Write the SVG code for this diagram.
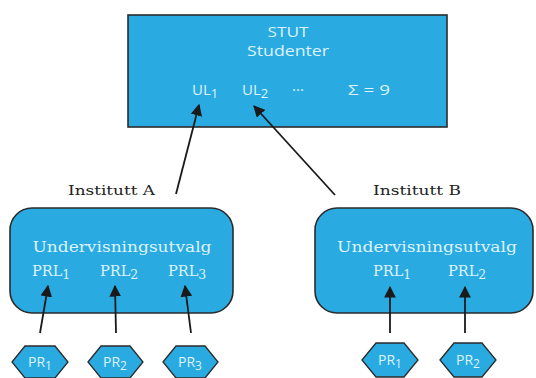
<svg xmlns="http://www.w3.org/2000/svg" width="536" height="378" viewBox="0 0 536 378">
<defs>
<style>
.box{fill:#29abe2;stroke:#2b2b2b;stroke-width:1.6}
.hex{fill:#29abe2;stroke:#2b2b2b;stroke-width:1.3}
.sans{font-family:"Open Sans","Liberation Sans",sans-serif;fill:#dff2fb}
.serif{font-family:"DejaVu Serif","Liberation Serif",serif;fill:#dff2fb}
.lbl{font-family:"DejaVu Serif","Liberation Serif",serif;fill:#222;font-size:13.5px}
.edge{stroke:#1a1a1a;stroke-width:1.8;fill:none;marker-end:url(#ah)}
</style>
<marker id="ah" viewBox="0 0 10 10" refX="9" refY="5" markerWidth="6.5" markerHeight="6.5" orient="auto" markerUnits="strokeWidth">
<path d="M0,0 L10,5 L0,10 z" fill="#1a1a1a"/>
</marker>
</defs>
<rect width="536" height="378" fill="#ffffff"/>

<g id="stut">
<rect class="box" x="128" y="15" width="319" height="112"/>
<text class="sans" x="288" y="37" font-size="14" text-anchor="middle" textLength="41" lengthAdjust="spacingAndGlyphs">STUT</text>
<text class="sans" x="288" y="56" font-size="14.5" text-anchor="middle" textLength="82" lengthAdjust="spacingAndGlyphs">Studenter</text>
<text class="sans" x="192" y="95" font-size="15">UL<tspan font-size="13" dy="3">1</tspan></text>
<text class="sans" x="242" y="95" font-size="15">UL<tspan font-size="13" dy="3">2</tspan></text>
<text class="sans" x="292" y="95" font-size="15">···</text>
<text class="sans" x="348" y="95" font-size="15" textLength="42" lengthAdjust="spacingAndGlyphs">Σ = 9</text>
</g>

<g id="instA">
<text class="lbl" x="68" y="195" textLength="87" lengthAdjust="spacingAndGlyphs">Institutt A</text>
<rect class="box" x="10" y="208" width="223" height="105" rx="22" ry="22"/>
<text class="serif" x="122" y="252" font-size="14.5" text-anchor="middle" textLength="179" lengthAdjust="spacingAndGlyphs">Undervisningsutvalg</text>
<text class="serif" x="32" y="276" font-size="14.5">PRL<tspan font-size="12.5" dy="3">1</tspan></text>
<text class="serif" x="100" y="276" font-size="14.5">PRL<tspan font-size="12.5" dy="3">2</tspan></text>
<text class="serif" x="168" y="276" font-size="14.5">PRL<tspan font-size="12.5" dy="3">3</tspan></text>
</g>

<g id="instB">
<text class="lbl" x="373" y="195" textLength="88" lengthAdjust="spacingAndGlyphs">Institutt B</text>
<rect class="box" x="315" y="208" width="218" height="105" rx="22" ry="22"/>
<text class="serif" x="427" y="252" font-size="14.5" text-anchor="middle" textLength="180" lengthAdjust="spacingAndGlyphs">Undervisningsutvalg</text>
<text class="serif" x="373" y="276" font-size="14.5">PRL<tspan font-size="12.5" dy="3">1</tspan></text>
<text class="serif" x="448" y="276" font-size="14.5">PRL<tspan font-size="12.5" dy="3">2</tspan></text>
</g>

<g id="prA1">
<polygon class="hex" points="12,362 25,346 55,346 68,362 55,378 25,378"/>
<text class="sans" x="40" y="367" font-size="14" text-anchor="middle">PR<tspan font-size="12" dy="3">1</tspan></text>
</g>
<g id="prA2">
<polygon class="hex" points="88,362 101,346 130,346 143,362 130,378 101,378"/>
<text class="sans" x="115" y="367" font-size="14" text-anchor="middle">PR<tspan font-size="12" dy="3">2</tspan></text>
</g>
<g id="prA3">
<polygon class="hex" points="163,362 176,346 205,346 218,362 205,378 176,378"/>
<text class="sans" x="190" y="367" font-size="14" text-anchor="middle">PR<tspan font-size="12" dy="3">3</tspan></text>
</g>
<g id="prB1">
<polygon class="hex" points="362,360 376,343 404,343 418,360 404,377 376,377"/>
<text class="sans" x="390" y="365" font-size="14" text-anchor="middle">PR<tspan font-size="12" dy="3">1</tspan></text>
</g>
<g id="prB2">
<polygon class="hex" points="440,360 454,343 482,343 496,360 482,377 454,377"/>
<text class="sans" x="468" y="365" font-size="14" text-anchor="middle">PR<tspan font-size="12" dy="3">2</tspan></text>
</g>

<g id="connectors">
<line class="edge" x1="176" y1="194" x2="199" y2="105"/>
<line class="edge" x1="335" y1="195" x2="254" y2="106"/>
<line class="edge" x1="40" y1="333" x2="48" y2="286"/>
<line class="edge" x1="116" y1="333" x2="115" y2="286"/>
<line class="edge" x1="191" y1="333" x2="185" y2="286"/>
<line class="edge" x1="390" y1="333" x2="390" y2="287"/>
<line class="edge" x1="465" y1="333" x2="465" y2="287"/>
</g>
</svg>
